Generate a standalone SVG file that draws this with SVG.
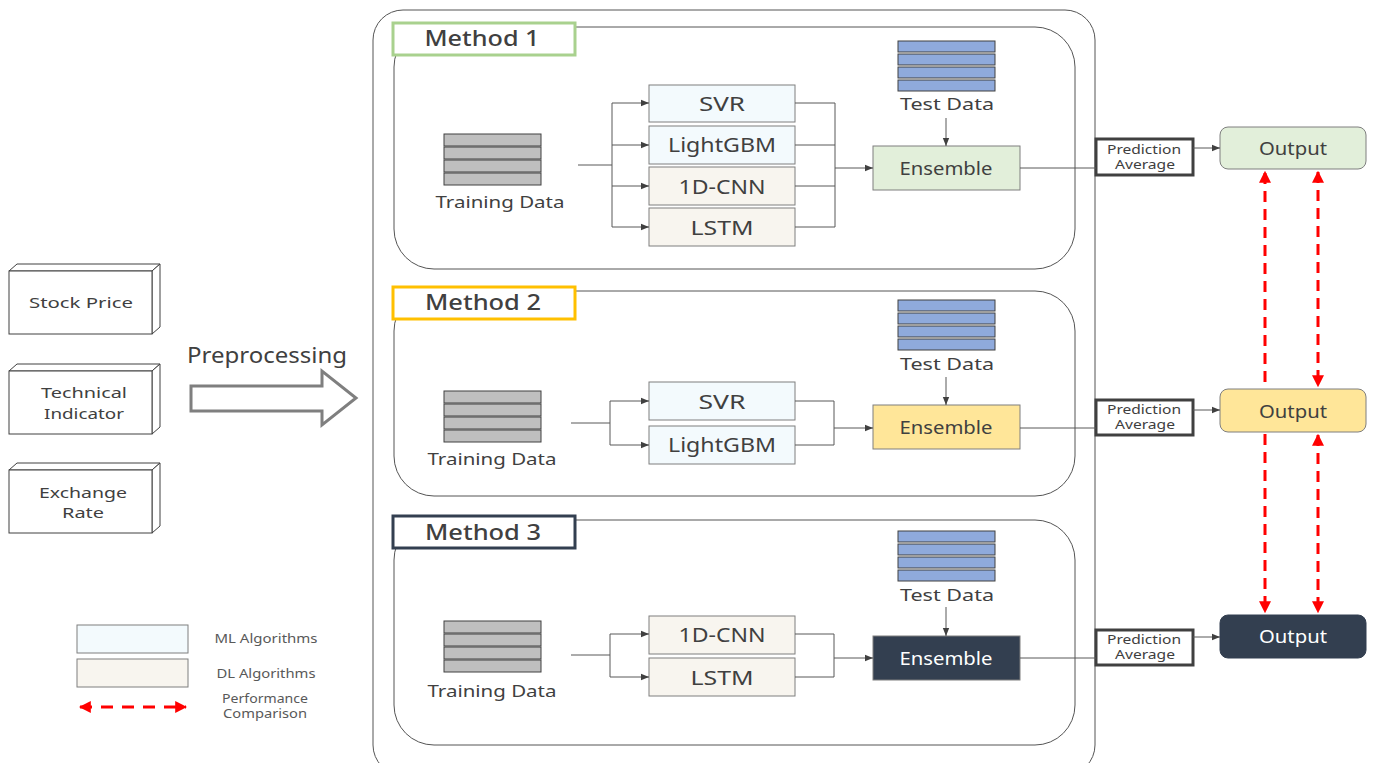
<svg xmlns="http://www.w3.org/2000/svg" width="1381" height="763" viewBox="0 0 1381 763">
<style>
text{font-family:"Noto Sans","DejaVu Sans",sans-serif;fill:#404040;text-anchor:middle}
.frame{fill:none;stroke:#555;stroke-width:1}
.lbl{fill:#fff;stroke-width:3}
.mt{font-size:22px;font-weight:500}
.alg{font-size:20px}
.ml{fill:#f3fafd;stroke:#7f7f7f;stroke-width:1}
.dl{fill:#f8f5ef;stroke:#7f7f7f;stroke-width:1}
.tr{fill:#bfbfbf;stroke:#404040;stroke-width:1}
.ts{fill:#8faadc;stroke:#404040;stroke-width:1}
.dt{font-size:17px}
.ens{stroke:#7f7f7f;stroke-width:1}
.et{font-size:18px}
.pa{fill:#fff;stroke:#404040;stroke-width:3}
.pt{font-size:12px}
.cn{fill:none;stroke:#595959;stroke-width:1}
.red{fill:none;stroke:#ff0000;stroke-width:3;stroke-dasharray:11 7}
.cube{fill:#fff;stroke:#404040;stroke-width:1}
.inp{font-size:15px}
.lg{font-size:12px;fill:#595959}
</style>
<defs>
<marker id="ah" viewBox="0 0 10 10" refX="10" refY="5" markerWidth="8" markerHeight="8" markerUnits="userSpaceOnUse" orient="auto"><path d="M0,1 L10,5 L0,9 Z" fill="#404040"/></marker>
<marker id="rh" viewBox="0 0 10 10" refX="9" refY="5" markerWidth="4" markerHeight="4" orient="auto-start-reverse"><path d="M0,0 L10,5 L0,10 Z" fill="#ff0000"/></marker>
</defs>

<!-- inputs -->
<g id="stock-price">
<path class="cube" d="M9,271 L17,264 L160,264 L152,271 Z"/>
<path class="cube" d="M152,271 L160,264 L160,327 L152,334 Z"/>
<rect class="cube" x="9" y="271" width="143" height="63"/>
<text class="inp" x="81" y="308" textLength="104" lengthAdjust="spacingAndGlyphs">Stock Price</text>
</g>
<g id="technical-indicator">
<path class="cube" d="M9,371 L17,364 L160,364 L152,371 Z"/>
<path class="cube" d="M152,371 L160,364 L160,427 L152,434 Z"/>
<rect class="cube" x="9" y="371" width="143" height="63"/>
<text class="inp" x="84" y="398" textLength="86" lengthAdjust="spacingAndGlyphs">Technical</text>
<text class="inp" x="84" y="419" textLength="80" lengthAdjust="spacingAndGlyphs">Indicator</text>
</g>
<g id="exchange-rate">
<path class="cube" d="M9,470 L17,463 L160,463 L152,470 Z"/>
<path class="cube" d="M152,470 L160,463 L160,526 L152,533 Z"/>
<rect class="cube" x="9" y="470" width="143" height="63"/>
<text class="inp" x="83" y="498" textLength="88" lengthAdjust="spacingAndGlyphs">Exchange</text>
<text class="inp" x="83" y="518" textLength="42" lengthAdjust="spacingAndGlyphs">Rate</text>
</g>
<g id="preprocessing">
<text x="267" y="363" style="font-size:21px" textLength="160" lengthAdjust="spacingAndGlyphs">Preprocessing</text>
<path d="M191,386 L322,386 L322,371 L356,398 L322,425 L322,411 L191,411 Z" fill="#fff" stroke="#7f7f7f" stroke-width="3"/>
</g>

<!-- outer frame -->
<g id="framework">
<rect class="frame" x="373" y="10" width="722" height="765" rx="30"/>
</g>

<!-- Method 1 -->
<g id="method1">
<rect class="frame" x="394" y="27" width="681" height="242" rx="40"/>
<rect class="lbl" x="393" y="23" width="182" height="32" stroke="#a9d18e"/>
<text class="mt" x="482" y="46" textLength="115" lengthAdjust="spacingAndGlyphs">Method 1</text>
</g>
<g id="m1-training">
<rect class="tr" x="444" y="134" width="97" height="12"/>
<rect class="tr" x="444" y="147" width="97" height="12"/>
<rect class="tr" x="444" y="160" width="97" height="12"/>
<rect class="tr" x="444" y="173" width="97" height="12"/>
<text class="dt" x="500" y="208" textLength="129" lengthAdjust="spacingAndGlyphs">Training Data</text>
</g>
<g id="m1-svr"><rect class="ml" x="649" y="85" width="146" height="37"/><text class="alg" x="722" y="111" textLength="46" lengthAdjust="spacingAndGlyphs">SVR</text></g>
<g id="m1-lightgbm"><rect class="ml" x="649" y="126" width="146" height="38"/><text class="alg" x="722" y="152" textLength="108" lengthAdjust="spacingAndGlyphs">LightGBM</text></g>
<g id="m1-1dcnn"><rect class="dl" x="649" y="167" width="146" height="38"/><text class="alg" x="722" y="194" textLength="87" lengthAdjust="spacingAndGlyphs">1D-CNN</text></g>
<g id="m1-lstm"><rect class="dl" x="649" y="208" width="146" height="38"/><text class="alg" x="722" y="235" textLength="63" lengthAdjust="spacingAndGlyphs">LSTM</text></g>
<g id="m1-test">
<rect class="ts" x="898" y="41" width="97" height="11"/>
<rect class="ts" x="898" y="54" width="97" height="11"/>
<rect class="ts" x="898" y="67" width="97" height="11"/>
<rect class="ts" x="898" y="80" width="97" height="11"/>
<text class="dt" x="947" y="110" textLength="94" lengthAdjust="spacingAndGlyphs">Test Data</text>
</g>
<g id="m1-ensemble"><rect class="ens" x="873" y="146" width="147" height="44" fill="#e2efda"/><text class="et" x="946" y="175" textLength="93" lengthAdjust="spacingAndGlyphs">Ensemble</text></g>
<g id="m1-pa"><rect class="pa" x="1096" y="139" width="97" height="36"/><text class="pt" x="1144" y="154" textLength="74" lengthAdjust="spacingAndGlyphs">Prediction</text><text class="pt" x="1145" y="169" textLength="60" lengthAdjust="spacingAndGlyphs">Average</text></g>
<g id="m1-output"><rect class="ens" x="1220" y="127" width="146" height="42" rx="8" fill="#e2efda"/><text class="et" x="1293" y="155" textLength="68" lengthAdjust="spacingAndGlyphs">Output</text></g>

<!-- Method 2 -->
<g id="method2">
<rect class="frame" x="394" y="291" width="681" height="205" rx="40"/>
<rect class="lbl" x="393" y="287" width="182" height="32" stroke="#ffc000"/>
<text class="mt" x="483" y="310" textLength="116" lengthAdjust="spacingAndGlyphs">Method 2</text>
</g>
<g id="m2-training">
<rect class="tr" x="444" y="391" width="97" height="12"/>
<rect class="tr" x="444" y="404" width="97" height="12"/>
<rect class="tr" x="444" y="417" width="97" height="12"/>
<rect class="tr" x="444" y="430" width="97" height="12"/>
<text class="dt" x="492" y="465" textLength="129" lengthAdjust="spacingAndGlyphs">Training Data</text>
</g>
<g id="m2-svr"><rect class="ml" x="649" y="382" width="146" height="38"/><text class="alg" x="722" y="409" textLength="47" lengthAdjust="spacingAndGlyphs">SVR</text></g>
<g id="m2-lightgbm"><rect class="ml" x="649" y="426" width="146" height="38"/><text class="alg" x="722" y="452" textLength="108" lengthAdjust="spacingAndGlyphs">LightGBM</text></g>
<g id="m2-test">
<rect class="ts" x="898" y="300" width="97" height="11"/>
<rect class="ts" x="898" y="313" width="97" height="11"/>
<rect class="ts" x="898" y="326" width="97" height="11"/>
<rect class="ts" x="898" y="339" width="97" height="11"/>
<text class="dt" x="947" y="370" textLength="94" lengthAdjust="spacingAndGlyphs">Test Data</text>
</g>
<g id="m2-ensemble"><rect class="ens" x="873" y="405" width="147" height="44" fill="#ffe699"/><text class="et" x="946" y="434" textLength="93" lengthAdjust="spacingAndGlyphs">Ensemble</text></g>
<g id="m2-pa"><rect class="pa" x="1096" y="400" width="97" height="35"/><text class="pt" x="1144" y="414" textLength="74" lengthAdjust="spacingAndGlyphs">Prediction</text><text class="pt" x="1145" y="429" textLength="60" lengthAdjust="spacingAndGlyphs">Average</text></g>
<g id="m2-output"><rect class="ens" x="1220" y="389" width="146" height="43" rx="8" fill="#ffe699"/><text class="et" x="1293" y="418" textLength="68" lengthAdjust="spacingAndGlyphs">Output</text></g>

<!-- Method 3 -->
<g id="method3">
<rect class="frame" x="394" y="520" width="681" height="225" rx="40"/>
<rect class="lbl" x="393" y="516" width="182" height="32" stroke="#333f50"/>
<text class="mt" x="483" y="540" textLength="116" lengthAdjust="spacingAndGlyphs">Method 3</text>
</g>
<g id="m3-training">
<rect class="tr" x="444" y="621" width="97" height="12"/>
<rect class="tr" x="444" y="634" width="97" height="12"/>
<rect class="tr" x="444" y="647" width="97" height="12"/>
<rect class="tr" x="444" y="660" width="97" height="12"/>
<text class="dt" x="492" y="697" textLength="129" lengthAdjust="spacingAndGlyphs">Training Data</text>
</g>
<g id="m3-1dcnn"><rect class="dl" x="649" y="616" width="146" height="38"/><text class="alg" x="722" y="642" textLength="87" lengthAdjust="spacingAndGlyphs">1D-CNN</text></g>
<g id="m3-lstm"><rect class="dl" x="649" y="658" width="146" height="38"/><text class="alg" x="722" y="685" textLength="63" lengthAdjust="spacingAndGlyphs">LSTM</text></g>
<g id="m3-test">
<rect class="ts" x="898" y="531" width="97" height="11"/>
<rect class="ts" x="898" y="544" width="97" height="11"/>
<rect class="ts" x="898" y="557" width="97" height="11"/>
<rect class="ts" x="898" y="570" width="97" height="11"/>
<text class="dt" x="947" y="601" textLength="94" lengthAdjust="spacingAndGlyphs">Test Data</text>
</g>
<g id="m3-ensemble"><rect class="ens" x="873" y="636" width="147" height="44" fill="#333f50"/><text class="et" x="946" y="665" style="fill:#fff" textLength="93" lengthAdjust="spacingAndGlyphs">Ensemble</text></g>
<g id="m3-pa"><rect class="pa" x="1096" y="630" width="97" height="35"/><text class="pt" x="1144" y="644" textLength="74" lengthAdjust="spacingAndGlyphs">Prediction</text><text class="pt" x="1145" y="659" textLength="60" lengthAdjust="spacingAndGlyphs">Average</text></g>
<g id="m3-output"><rect x="1220" y="615" width="146" height="43" rx="8" fill="#333f50" stroke="#333f50"/><text class="et" x="1293" y="643" style="fill:#fff" textLength="68" lengthAdjust="spacingAndGlyphs">Output</text></g>

<!-- legend -->
<g id="legend">
<rect class="ml" x="77" y="625" width="111" height="28"/>
<text class="lg" x="266" y="643" textLength="103" lengthAdjust="spacingAndGlyphs">ML Algorithms</text>
<rect class="dl" x="77" y="659" width="111" height="28"/>
<text class="lg" x="266" y="678" textLength="99" lengthAdjust="spacingAndGlyphs">DL Algorithms</text>
<line class="red" x1="80" y1="707" x2="186" y2="707" marker-start="url(#rh)" marker-end="url(#rh)" style="stroke-dasharray:12 9"/>
<text class="lg" x="265" y="703" textLength="86" lengthAdjust="spacingAndGlyphs">Performance</text>
<text class="lg" x="265" y="718" textLength="84" lengthAdjust="spacingAndGlyphs">Comparison</text>
</g>

<!-- connectors -->
<g id="connectors">
<!-- M1 -->
<path class="cn" d="M578,165 H612 M612,103 V227"/>
<path class="cn" d="M612,103 H649" marker-end="url(#ah)"/>
<path class="cn" d="M612,145 H649" marker-end="url(#ah)"/>
<path class="cn" d="M612,186 H649" marker-end="url(#ah)"/>
<path class="cn" d="M612,227 H649" marker-end="url(#ah)"/>
<path class="cn" d="M795,103 H835 M795,145 H835 M795,186 H835 M795,227 H835 M835,103 V227"/>
<path class="cn" d="M835,168 H873" marker-end="url(#ah)"/>
<path class="cn" d="M946,118 V146" marker-end="url(#ah)"/>
<path class="cn" d="M1020,168 H1096"/>
<path class="cn" d="M1193,148 H1220" marker-end="url(#ah)"/>
<!-- M2 -->
<path class="cn" d="M571,423 H610 M610,401 V445"/>
<path class="cn" d="M610,401 H649" marker-end="url(#ah)"/>
<path class="cn" d="M610,445 H649" marker-end="url(#ah)"/>
<path class="cn" d="M795,401 H834 M795,445 H834 M834,401 V445"/>
<path class="cn" d="M834,428 H873" marker-end="url(#ah)"/>
<path class="cn" d="M946,377 V405" marker-end="url(#ah)"/>
<path class="cn" d="M1020,428 H1096"/>
<path class="cn" d="M1193,410 H1220" marker-end="url(#ah)"/>
<!-- M3 -->
<path class="cn" d="M571,655 H610 M610,634 V677"/>
<path class="cn" d="M610,634 H649" marker-end="url(#ah)"/>
<path class="cn" d="M610,677 H649" marker-end="url(#ah)"/>
<path class="cn" d="M795,634 H834 M795,677 H834 M834,634 V677"/>
<path class="cn" d="M834,658 H873" marker-end="url(#ah)"/>
<path class="cn" d="M946,607 V636" marker-end="url(#ah)"/>
<path class="cn" d="M1020,658 H1096"/>
<path class="cn" d="M1193,637 H1220" marker-end="url(#ah)"/>
<!-- performance comparison -->
<line class="red" x1="1265" y1="382" x2="1265" y2="172" marker-end="url(#rh)"/>
<line class="red" x1="1318" y1="172" x2="1318" y2="386" marker-start="url(#rh)" marker-end="url(#rh)"/>
<line class="red" x1="1265" y1="434" x2="1265" y2="612" marker-end="url(#rh)"/>
<line class="red" x1="1318" y1="435" x2="1318" y2="612" marker-start="url(#rh)" marker-end="url(#rh)"/>
</g>
</svg>
